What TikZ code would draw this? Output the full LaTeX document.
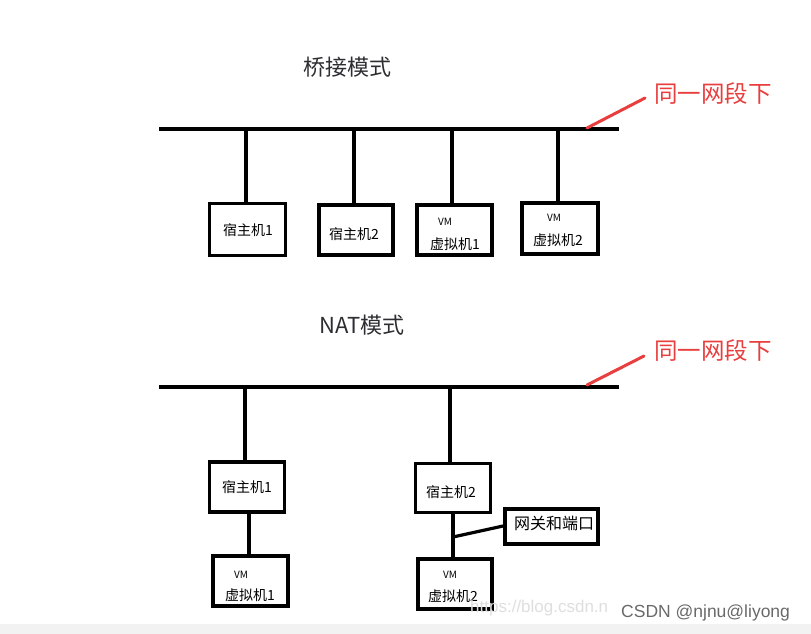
\documentclass[tikz,border=0pt]{standalone}
\usepackage{fontspec}
\setmainfont{Liberation Sans}
\newfontfamily\cjk{Noto Sans CJK SC}
\definecolor{netred}{RGB}{232,62,62}
\definecolor{titlegray}{RGB}{45,45,50}
\definecolor{wmgray}{RGB}{105,105,105}
\definecolor{wmlight}{RGB}{222,222,222}
\definecolor{bandgray}{RGB}{242,242,242}
\tikzset{
  box/.style={draw, line width=3.8pt, inner sep=0pt},
  wire/.style={line width=3.2pt},
  buswire/.style={line width=4pt},
  redwire/.style={netred, line width=3pt, line cap=round},
  boxtxt/.style={font=\cjk\fontsize{14}{16}\selectfont, inner sep=0pt},
  vmtxt/.style={font=\cjk\fontsize{10}{12}\selectfont, inner sep=0pt},
  titletxt/.style={font=\cjk\fontsize{22}{26}\selectfont, text=titlegray, inner sep=0pt},
  redtxt/.style={font=\cjk\fontsize{23.5}{27}\selectfont, text=netred, inner sep=0pt},
}
\begin{document}
\begin{tikzpicture}[x=1pt,y=-1pt]
\useasboundingbox (0,0) rectangle (811,634);
\fill[bandgray] (0,624) rectangle (811,634);

% ---------- Bridge mode ----------
\node[titletxt] (t1) at (347,67) {桥接模式};
\coordinate (busAL) at (159,129);
\coordinate (busAR) at (619,129);
\draw[buswire] (busAL) -- (busAR);
\coordinate (redA1) at (587,128);
\coordinate (redA2) at (645,98);
\draw[redwire] (redA1) -- (redA2);
\node[redtxt] (sameA) at (713,94) {同一网段下};

\node[box, minimum width=76pt, minimum height=52pt] (b1) at (247.5,229.5) {};
\node[box, minimum width=74pt, minimum height=50pt] (b2) at (356,230) {};
\node[box, minimum width=75pt, minimum height=50pt] (b3) at (454.5,230) {};
\node[box, minimum width=76pt, minimum height=51pt] (b4) at (560,228.5) {};

\coordinate (dA1) at (246,129);
\coordinate (dA2) at (354,129);
\coordinate (dA3) at (452,129);
\coordinate (dA4) at (558,129);
\draw[wire] (dA1) -- (dA1 |- b1.north);
\draw[wire] (dA2) -- (dA2 |- b2.north);
\draw[wire] (dA3) -- (dA3 |- b3.north);
\draw[wire] (dA4) -- (dA4 |- b4.north);

\node[boxtxt] (b1t) at (248,230) {宿主机1};
\node[boxtxt] (b2t) at (354,234) {宿主机2};
\node[vmtxt] (b3v) at (445,222) {VM};
\node[boxtxt] (b3t) at (455,244) {虚拟机1};
\node[vmtxt] (b4v) at (554,218) {VM};
\node[boxtxt] (b4t) at (558,240) {虚拟机2};

% ---------- NAT mode ----------
\node[titletxt] (t2) at (362,325) {NAT模式};
\coordinate (busBL) at (159,387);
\coordinate (busBR) at (619,387);
\draw[buswire] (busBL) -- (busBR);
\coordinate (redB1) at (587,385);
\coordinate (redB2) at (644,356);
\draw[redwire] (redB1) -- (redB2);
\node[redtxt] (sameB) at (713,351) {同一网段下};

\node[box, minimum width=75pt, minimum height=50pt] (h1) at (247,487) {};
\node[box, minimum width=75pt, minimum height=49pt] (h2) at (453,488) {};
\node[box, minimum width=75pt, minimum height=50pt] (v1) at (250.5,581) {};
\node[box, minimum width=74pt, minimum height=50pt] (v2) at (455,584) {};
\node[box, minimum width=93pt, minimum height=35pt] (gw) at (551.5,526.5) {};

\coordinate (dB1) at (245,387);
\coordinate (dB2) at (450,387);
\draw[wire] (dB1) -- (dB1 |- h1.north);
\draw[wire] (dB2) -- (dB2 |- h2.north);
\coordinate (cV1) at (249,514);
\draw[wire] (cV1 |- h1.south) -- (cV1 |- v1.north);
\coordinate (cV2) at (453,514);
\draw[wire] (cV2 |- h2.south) -- (cV2 |- v2.north);
\coordinate (gwj) at (453,537);
\draw[wire] (gwj) -- (gw.west |- 0,526);

\node[boxtxt] (h1t) at (247,487) {宿主机1};
\node[boxtxt] (h2t) at (451,492) {宿主机2};
\node[font=\cjk\fontsize{16}{18}\selectfont, inner sep=0pt] (gwt) at (554,523) {网关和端口};
\node[vmtxt] (v1v) at (241,575) {VM};
\node[boxtxt] (v1t) at (250,595) {虚拟机1};
\node[vmtxt] (v2v) at (450,575) {VM};
\node[boxtxt] (v2t) at (453,596) {虚拟机2};

% ---------- watermark ----------
\node[text=wmlight, font=\fontsize{17}{20}\selectfont, inner sep=0pt, anchor=west] (url) at (470,608) {https://blog.csdn.n};
\node[text=wmgray, font=\fontsize{17.5}{20}\selectfont, inner sep=0pt, anchor=west] (csdn) at (621,613) {CSDN @njnu@liyong};
\end{tikzpicture}
\end{document}
